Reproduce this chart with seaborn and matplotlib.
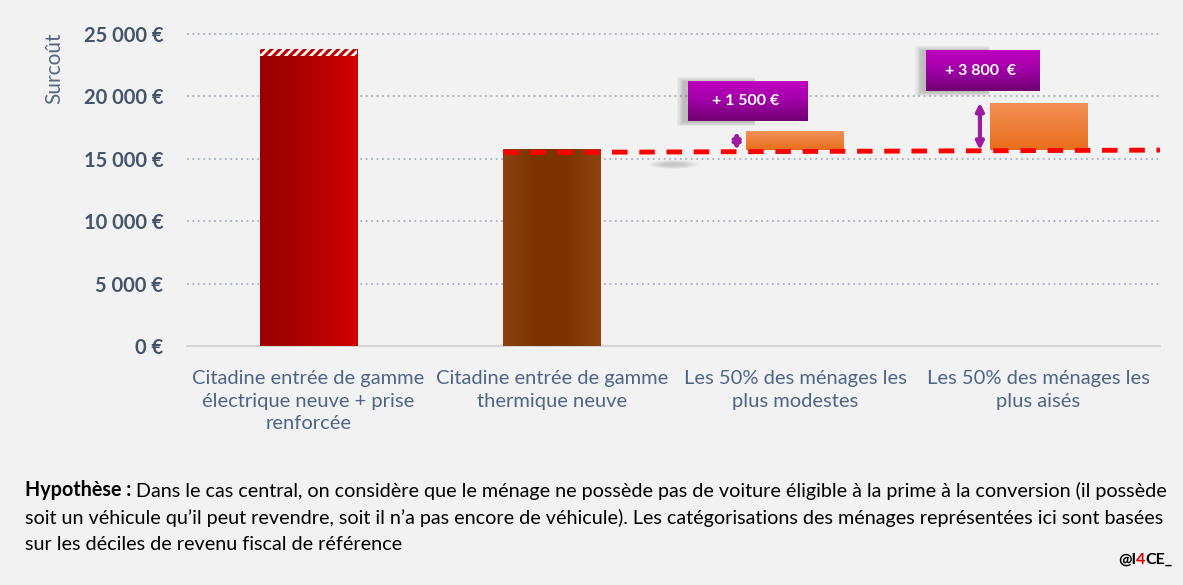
import numpy as np
import pandas as pd
import matplotlib
matplotlib.use("Agg")
import matplotlib.pyplot as plt
import seaborn as sns
from matplotlib.patches import Rectangle, Ellipse
from matplotlib.colors import LinearSegmentedColormap

# --- Data ---
categories = [
    "Citadine entrée de gamme\nélectrique neuve + prise\nrenforcée",
    "Citadine entrée de gamme\nthermique neuve",
    "Les 50% des ménages les\nplus modestes",
    "Les 50% des ménages les\nplus aisés",
]
bar_tops = [23800, 15800, 17200, 19500]
bar_bottoms = [0, 0, 15700, 15700]
hatch_start = 23250            # top part of the electric bar (prise renforcée)
ref_line = [15500, 15700]      # red dashed reference (thermal cost)
gaps = [1500, 3800]
gap_labels = ["+ 1 500 €", "+ 3 800  €"]
y_ticks = [0, 5000, 10000, 15000, 20000, 25000]
y_ticklabels = ["0 €", "5 000 €", "10 000 €", "15 000 €", "20 000 €", "25 000 €"]

note_lines = [
    "Dans le cas central, on considère que le ménage ne possède pas de voiture éligible à la prime à la conversion (il possède",
    "soit un véhicule qu’il peut revendre, soit il n’a pas encore de véhicule). Les catégorisations des ménages représentées ici sont basées",
    "sur les déciles de revenu fiscal de référence",
]

BG = "#F2F2F2"
TICK_COLOR = "#44546A"
CAT_COLOR = "#4E6585"
NOTE_SIZE = 14.2


def fill_gradient(ax, patch, colors, horizontal, z):
    """Paint a gradient image clipped to a bar patch."""
    x0, y0 = patch.get_x(), patch.get_y()
    w, h = patch.get_width(), patch.get_height()
    cmap = LinearSegmentedColormap.from_list("g", colors)
    grad = np.linspace(0, 1, 256)
    img = grad[None, :] if horizontal else grad[:, None]
    im = ax.imshow(img, cmap=cmap, extent=[x0, x0 + w, y0, y0 + h],
                   origin="lower", aspect="auto", zorder=z, interpolation="bilinear")
    im.set_clip_path(patch)
    patch.set_facecolor("none")
    patch.set_edgecolor("none")


def soft_shadow(ax, x0, y0, w, h, z):
    # blurred shadow, mostly to the left of the label box
    for k in range(6):
        gx = 0.005 * k
        gy = 60 * k
        ax.add_patch(Rectangle((x0 - 0.02 - gx, y0 - 100 - gy),
                               w * 0.6 + gx, h + 100 + 2 * gy,
                               facecolor="black", alpha=0.04, lw=0, zorder=z,
                               clip_on=False))


sns.set_theme(style="white")
plt.rcParams["font.family"] = ["Lato", "DejaVu Sans"]
plt.rcParams["hatch.linewidth"] = 2.0

fig = plt.figure(figsize=(11.83, 5.85), dpi=100, facecolor=BG)
ax = fig.add_axes([0.158, 0.4085, 0.8225, 0.576])
ax.set_facecolor(BG)

df = pd.DataFrame({"categorie": categories, "surcout": bar_tops})
sns.barplot(data=df, x="categorie", y="surcout", width=0.4, color="#C00000",
            ax=ax, zorder=3, saturation=1)

patches = ax.patches[:4]
for p, top, bottom in zip(patches, bar_tops, bar_bottoms):
    p.set_y(bottom)
    p.set_height(top - bottom)

fill_gradient(ax, patches[0], ["#990000", "#B00000", "#D40000"], True, 3)
fill_gradient(ax, patches[1], ["#8E4311", "#7A3300", "#7C3500", "#8E4311"], True, 3)
fill_gradient(ax, patches[2], ["#E86E1A", "#F39058"], False, 3)
fill_gradient(ax, patches[3], ["#E86E1A", "#F39058"], False, 3)

# hatched top of electric bar
p0 = patches[0]
ax.add_patch(Rectangle((p0.get_x(), hatch_start), p0.get_width(),
                       bar_tops[0] - hatch_start, facecolor="#C00000",
                       edgecolor="white", hatch="////", lw=0, zorder=4))

# faint shadow next to the thermal bar
for k in range(5):
    ax.add_patch(Ellipse((1.5, 14550), 0.1 + 0.025 * k, 300 + 100 * k,
                         facecolor="black", alpha=0.035, lw=0, zorder=2))

# red dashed reference line
ax.plot([0.8, 3.5], ref_line, color="#FF0000", lw=3.5,
        linestyle=(0, (3.2, 2.4)), zorder=5, solid_capstyle="butt")

# arrows and labels for the extra cost
box_pos = [(1.56, 18030, 0.49, 3200), (2.54, 20430, 0.465, 3290)]
for i, (gap, label, (bx, by, bw, bh)) in enumerate(zip(gaps, gap_labels, box_pos)):
    xi = i + 2 - 0.24
    base = bar_bottoms[i + 2]
    ax.annotate("", xy=(xi, base + gap), xytext=(xi, base),
                arrowprops=dict(arrowstyle="<|-|>", color="#9A1E9E", lw=3,
                                mutation_scale=11, shrinkA=0, shrinkB=0),
                zorder=6)
    soft_shadow(ax, bx, by, bw, bh, 6)
    box = Rectangle((bx, by), bw, bh, facecolor="#B000B0", lw=0, zorder=7,
                    clip_on=False)
    ax.add_patch(box)
    cmap = LinearSegmentedColormap.from_list("m", ["#700070", "#A000A8", "#C000C0"])
    im = ax.imshow(np.linspace(0, 1, 256)[:, None], cmap=cmap,
                   extent=[bx, bx + bw, by, by + bh], origin="lower",
                   aspect="auto", zorder=7, interpolation="bilinear")
    im.set_clip_path(box)
    ax.text(bx + bw * 0.48, by + bh / 2, label, color="white", fontsize=11.5,
            fontweight="bold", ha="center", va="center", zorder=8)

# axes styling
ax.set_xlim(-0.5, 3.5)
ax.set_ylim(0, 27000)
ax.set_yticks(y_ticks)
ax.set_yticklabels(y_ticklabels, fontsize=14.5, fontweight="bold", color=TICK_COLOR)
ax.tick_params(axis="y", length=0, pad=17)
ax.tick_params(axis="x", length=0, pad=17)
for lbl in ax.get_xticklabels():
    lbl.set_fontsize(14.5)
    lbl.set_color(CAT_COLOR)
    lbl.set_linespacing(1.42)
ax.set_xlabel("")
ax.set_ylabel("Surcoût", fontsize=15, color="#56677F")
ax.yaxis.set_label_coords(-0.126, 0.826)
for y in y_ticks[1:]:
    ax.axhline(y, color="#A7B1C2", lw=1.3, linestyle=(0, (1, 2)), zorder=1)
for s in ["top", "right", "left"]:
    ax.spines[s].set_visible(False)
ax.spines["bottom"].set_color("#D0D0D0")
ax.spines["bottom"].set_linewidth(1.2)

# footnote
y_lines = [1 - 490 / 585, 1 - 518 / 585, 1 - 545 / 585]
bold = fig.text(25 / 1183, y_lines[0], "Hypothèse :", fontsize=NOTE_SIZE,
                fontweight="bold", color="black", va="center")
fig.canvas.draw()
plt.annotate(" " + note_lines[0], xy=(1, 0), xycoords=bold, fontsize=NOTE_SIZE,
             va="bottom", ha="left", color="black", annotation_clip=False)
for yl, line in zip(y_lines[1:], note_lines[1:]):
    fig.text(25 / 1183, yl, line, fontsize=NOTE_SIZE, color="black", va="center")

sig1 = fig.text(1118 / 1183, 1 - 560 / 585, "@I", fontsize=11.5,
                fontweight="bold", color="black", va="center")
sig2 = plt.annotate("4", xy=(1, 0), xycoords=sig1, fontsize=11.5,
                    fontweight="bold", color="#E00000", va="bottom")
plt.annotate("CE_", xy=(1, 0), xycoords=sig2, fontsize=11.5,
             fontweight="bold", color="black", va="bottom")

fig.savefig("out.png", dpi=100, facecolor=BG)
